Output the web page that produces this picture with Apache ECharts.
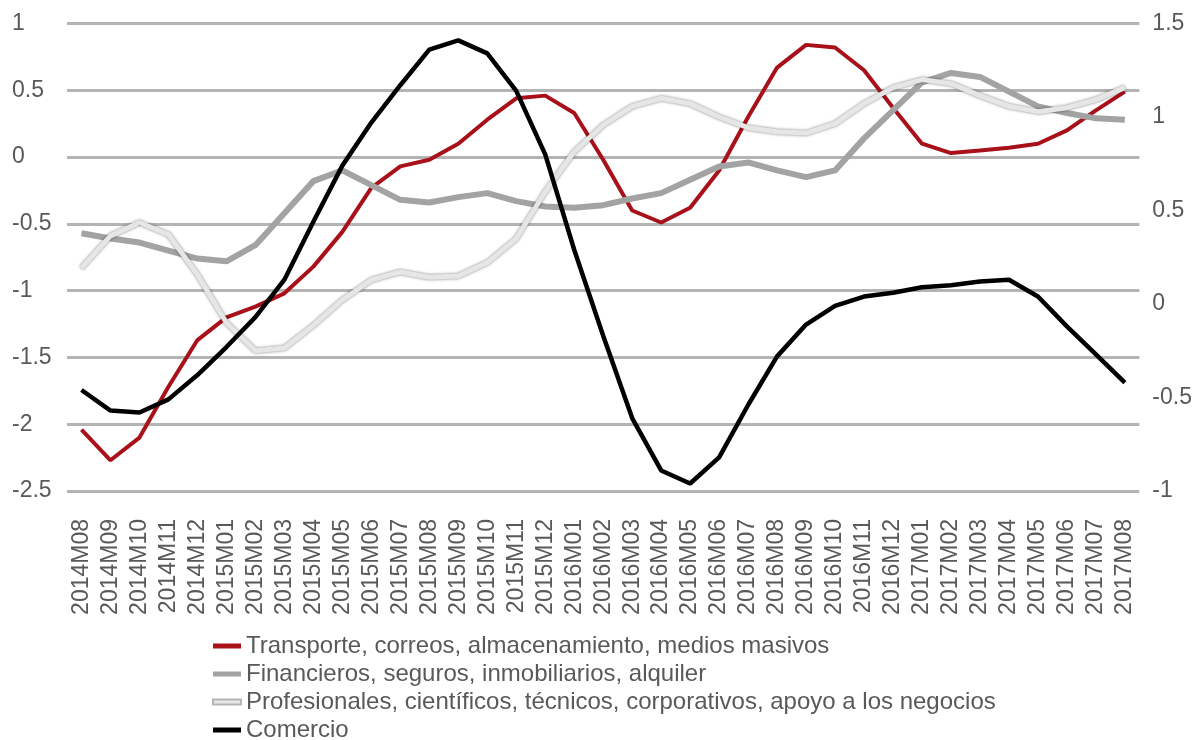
<!DOCTYPE html>
<html>
<head>
<meta charset="utf-8">
<style>
  html, body { margin: 0; padding: 0; background: #fff; }
  #chart { width: 1195px; height: 740px; }
</style>
<script src="https://cdn.jsdelivr.net/npm/echarts@6/dist/echarts.min.js"></script>
</head>
<body>
<div id="chart"></div>
<script>
// meses
var meses = [
  "2014M08", "2014M09", "2014M10", "2014M11", "2014M12",
  "2015M01", "2015M02", "2015M03", "2015M04", "2015M05", "2015M06",
  "2015M07", "2015M08", "2015M09", "2015M10", "2015M11", "2015M12",
  "2016M01", "2016M02", "2016M03", "2016M04", "2016M05", "2016M06",
  "2016M07", "2016M08", "2016M09", "2016M10", "2016M11", "2016M12",
  "2017M01", "2017M02", "2017M03", "2017M04", "2017M05", "2017M06",
  "2017M07", "2017M08"
];

var transporte = [
  -2.04, -2.27, -2.10, -1.72, -1.37, -1.20, -1.12, -1.02, -0.82, -0.56, -0.23,
  -0.07, -0.02, 0.10, 0.28, 0.44, 0.46, 0.33, -0.02, -0.40, -0.49, -0.38,
  -0.10, 0.30, 0.67, 0.84, 0.82, 0.65, 0.37, 0.10, 0.03, 0.05, 0.07, 0.10,
  0.20, 0.35, 0.49
];

var financieros = [
  -0.57, -0.61, -0.64, -0.70, -0.76, -0.78, -0.66, -0.42, -0.18, -0.10, -0.21,
  -0.32, -0.34, -0.30, -0.27, -0.33, -0.37, -0.38, -0.36, -0.31, -0.27, -0.17,
  -0.07, -0.04, -0.10, -0.15, -0.10, 0.14, 0.35, 0.56, 0.63, 0.60, 0.49, 0.38,
  0.33, 0.29, 0.28
];

var profesionales = [
  -0.83, -0.59, -0.49, -0.58, -0.88, -1.24, -1.45, -1.43, -1.26, -1.07, -0.92,
  -0.86, -0.90, -0.89, -0.79, -0.61, -0.26, 0.04, 0.24, 0.38, 0.44, 0.40,
  0.30, 0.22, 0.19, 0.18, 0.25, 0.40, 0.52, 0.58, 0.55, 0.46, 0.38, 0.34,
  0.37, 0.43, 0.52
];

// eje derecho
var comercio = [
  -0.46, -0.57, -0.58, -0.51, -0.38, -0.23, -0.07, 0.13, 0.44, 0.74, 0.97,
  1.17, 1.36, 1.41, 1.34, 1.14, 0.80, 0.29, -0.17, -0.61, -0.89, -0.96,
  -0.82, -0.54, -0.28, -0.11, -0.01, 0.04, 0.06, 0.09, 0.10, 0.12, 0.13, 0.04,
  -0.12, -0.27, -0.42
];

var nombres = [
  "Transporte, correos, almacenamiento, medios masivos",
  "Financieros, seguros, inmobiliarios, alquiler",
  "Profesionales, científicos, técnicos, corporativos, apoyo a los negocios",
  "Comercio"
];

var myChart = echarts.init(document.getElementById("chart"));

var fuente = "Liberation Sans, Arial, sans-serif";
var gris = "#595959";

myChart.setOption({
  animation: false,
  textStyle: {
    fontFamily: fuente
  },
  grid: {
    left: 67,
    right: 55,
    top: 23.5,
    bottom: 249
  },
  legend: {
    orient: "vertical",
    left: 207,
    top: 629,
    height: 140,
    itemWidth: 28,
    itemHeight: 5,
    itemGap: 4,
    icon: "rect",
    textStyle: {
      color: gris,
      fontSize: 24,
      fontFamily: fuente
    },
    data: nombres
  },
  xAxis: {
    type: "category",
    data: meses,
    boundaryGap: true,
    axisLine: { show: false },
    axisTick: { show: false },
    axisLabel: {
      rotate: 90,
      interval: 0,
      margin: 28,
      color: gris,
      fontSize: 23
    }
  },
  yAxis: [
    {
      type: "value",
      min: -2.5,
      max: 1,
      interval: 0.5,
      axisLine: { show: false },
      axisTick: { show: false },
      axisLabel: {
        align: "left",
        margin: 55,
        color: gris,
        fontSize: 23
      },
      splitLine: {
        lineStyle: { color: "#b4b4b4", width: 3 }
      }
    },
    {
      type: "value",
      min: -1,
      max: 1.5,
      interval: 0.5,
      position: "right",
      axisLine: { show: false },
      axisTick: { show: false },
      axisLabel: {
        align: "left",
        margin: 13,
        color: gris,
        fontSize: 23
      },
      splitLine: { show: false }
    }
  ],
  series: [
    {
      name: nombres[0],
      type: "line",
      data: transporte,
      symbol: "none",
      color: "#a8101a",
      lineStyle: { width: 4, color: "#a8101a" }
    },
    {
      name: nombres[1],
      type: "line",
      data: financieros,
      symbol: "none",
      color: "#a3a3a3",
      lineStyle: { width: 6, color: "#a3a3a3" }
    },
    {
      name: nombres[2],
      type: "line",
      data: profesionales,
      symbol: "none",
      color: "#e6e6e6",
      itemStyle: { borderColor: "#b5b5b5", borderWidth: 1 },
      lineStyle: {
        width: 5,
        color: "#e6e6e6",
        shadowColor: "rgba(0, 0, 0, 0.5)",
        shadowBlur: 3
      }
    },
    {
      name: nombres[3],
      type: "line",
      yAxisIndex: 1,
      data: comercio,
      symbol: "none",
      color: "#000000",
      lineStyle: { width: 4.5, color: "#000000" }
    }
  ]
});
</script>
</body>
</html>
